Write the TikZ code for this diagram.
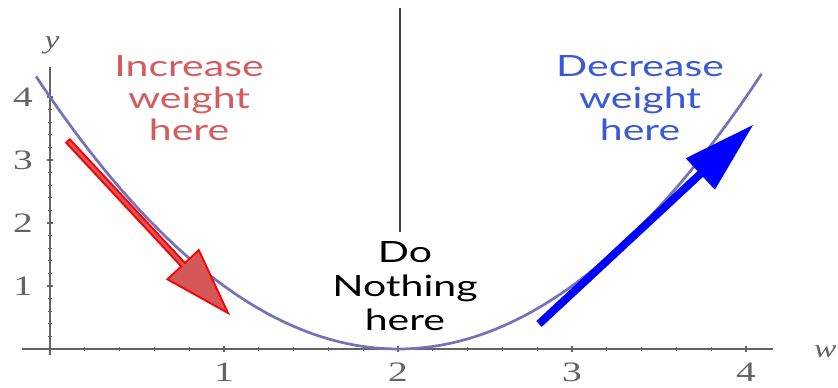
\documentclass[tikz,border=0pt]{standalone}
\usepackage{fontspec}
\setmainfont{Lato}
\newfontfamily\numfont{Liberation Serif}
\usetikzlibrary{arrows.meta,positioning,calc}
\definecolor{curveblue}{RGB}{115,115,188}
\definecolor{axisgray}{RGB}{100,100,100}
\definecolor{incred}{RGB}{212,92,92}
\definecolor{decblue}{RGB}{58,88,218}
\definecolor{arrowfill}{RGB}{212,88,88}

\begin{document}
\begin{tikzpicture}[x=5.22cm,y=1.89cm,
  lbl/.style={align=center,inner sep=0pt,xscale=1.4,font=\fontsize{25}{27.6}\selectfont},
  num/.style={text=axisgray,xscale=1.4,font=\numfont\fontsize{24}{24}\selectfont},
  axislabel/.style={text=axisgray,xscale=1.3,font=\numfont\itshape\fontsize{22}{22}\selectfont}]
\useasboundingbox (-0.28736,-0.61905) rectangle (4.52874,5.53968);
% axes and ticks
\draw[axisgray,line width=1.2pt] (-0.161,0) -- (4.155,0);
\draw[axisgray,line width=1.2pt] (0,-0.095) -- (0,4.476);
\foreach \t in {0.2,0.4,...,4.1}{
  \draw[axisgray,line width=0.8pt] (\t,0) ++(0,-1.5pt) -- ++(0,3pt);
  \draw[axisgray,line width=0.8pt] (0,\t) ++(-1.5pt,0) -- ++(3pt,0);}
\foreach \i in {1,2,3,4}{
  \draw[axisgray,line width=1pt] (\i,0) ++(0,-2.5pt) -- ++(0,5pt);
  \draw[axisgray,line width=1pt] (0,\i) ++(-2.5pt,0) -- ++(5pt,0);
  \node[num] (xl\i) at (\i,-0.365) {\i};
  \node[num] (yl\i) at (-0.155,\i) {\i};}
\node[axislabel] (ylab) at (0.0115,4.825) {y};
\node[axislabel] (wlab) at (4.455,-0.048) {w};
% error curve
\draw[curveblue,line width=2.3pt] plot[domain=-0.08:4.09,samples=80] (\x,{(\x-2)^2});
% labels
\node[lbl,text=incred,anchor=north] (inc) at (0.799,4.667) {Increase\\weight\\here};
\node[lbl,text=decblue,anchor=north] (dec) at (3.391,4.667) {Decrease\\weight\\here};
\node[lbl,anchor=north,font=\fontsize{25}{29.3}\selectfont] (none) at (2.04,1.714) {Do\\Nothing\\here};
% divider
\coordinate (top) at (2.0115,5.413);
\draw[black!75,line width=1pt,shorten >=0.27cm] (top) -- (none.north -| top);
% red arrow
\fill[arrowfill,draw=red,line width=1.6pt,line join=miter]
  (0.0929,3.2746) -- (0.1140,3.3286) -- (0.7755,1.3651) -- (0.8552,1.5698)
  -- (1.0230,0.5714) -- (0.6747,1.1063) -- (0.7544,1.3111) -- cycle;
% blue arrow
\fill[blue]
  (2.8259,0.3508) -- (3.7529,2.7317) -- (3.8213,2.5286) -- (4.0402,3.5556)
  -- (3.6534,3.0270) -- (3.7218,2.8238) -- (2.7948,0.4429) -- cycle;
\end{tikzpicture}
\end{document}
